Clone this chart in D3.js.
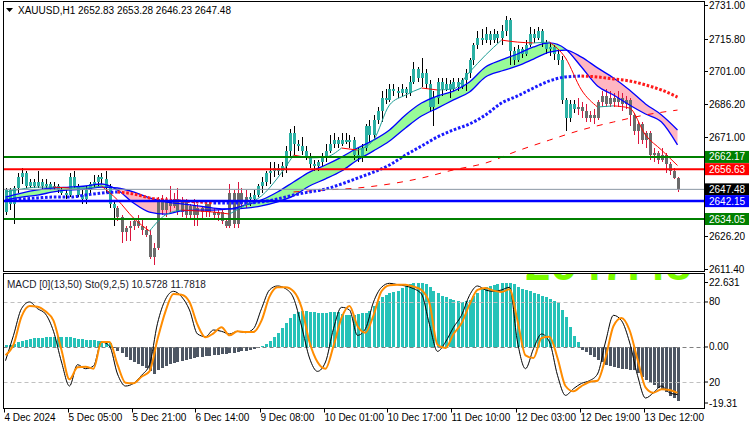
<!DOCTYPE html>
<html><head><meta charset="utf-8">
<script src="https://cdn.jsdelivr.net/npm/d3@7"></script>
<style>
html,body{margin:0;padding:0;background:#fff;}
svg{display:block;font-family:"Liberation Sans",Arial,sans-serif;}
</style></head><body>
<svg id="c" width="750" height="430"></svg>
<script>
// ---------- DATA ----------
const title = "XAUUSD,H1  2652.83 2653.28 2646.23 2647.48";
const subTitle = "MACD [0](13,50)  Sto(9,2,5) 10.5728 11.7818";
const open = [2637,2647,2641,2648,2653,2655,2649,2651,2649,2651,2649,2650,2648,2649,2647,2646,2645,2653,2649,2645,2643,2647,2650,2651,2653,2652,2648,2641,2639,2635,2628,2630,2631,2633,2631,2629,2627,2617,2621,2643,2638,2642,2640,2643,2637,2642,2636,2640,2636,2639,2637,2641,2637,2636,2637,2633,2631,2646,2632,2646,2641,2644,2643,2645,2649,2651,2655,2656,2657,2656,2658,2665,2673,2668,2667,2665,2662,2659,2658,2660,2662,2665,2668,2670,2668,2670,2669,2670,2663,2662,2666,2676,2672,2679,2683,2689,2688,2693,2692,2691,2693,2691,2696,2702,2698,2700,2695,2685,2689,2696,2693,2695,2693,2696,2694,2697,2700,2706,2713,2716,2715,2718,2715,2718,2716,2719,2724,2710,2706,2711,2709,2713,2718,2716,2719,2714,2711,2712,2709,2706,2688,2680,2686,2684,2685,2683,2680,2681,2680,2687,2690,2686,2689,2687,2689,2686,2688,2681,2674,2677,2670,2673,2663,2664,2661,2663,2659,2656,2652.83];
const high = [2648,2648,2649,2655,2657,2656,2652,2652,2656,2652,2652,2651,2651,2650,2648,2647,2655,2656,2650,2647,2649,2651,2654,2654,2655,2656,2650,2642,2640,2636,2631,2633,2634,2636,2634,2631,2629,2623,2644,2645,2644,2649,2646,2648,2644,2643,2641,2643,2641,2640,2642,2642,2639,2638,2638,2634,2650,2647,2651,2648,2647,2646,2647,2650,2653,2656,2660,2660,2659,2660,2667,2675,2676,2670,2671,2667,2664,2661,2661,2664,2668,2672,2673,2671,2673,2673,2672,2671,2666,2668,2677,2679,2681,2685,2692,2693,2695,2695,2694,2695,2694,2699,2705,2703,2707,2702,2697,2692,2698,2698,2698,2697,2698,2698,2698,2702,2707,2714,2719,2720,2721,2719,2720,2719,2722,2726,2725,2712,2713,2712,2715,2721,2720,2721,2720,2715,2714,2713,2711,2708,2689,2688,2688,2689,2687,2686,2683,2684,2688,2692,2693,2692,2691,2692,2691,2690,2689,2682,2678,2678,2674,2674,2666,2665,2666,2664,2660,2657,2653.28];
const low = [2636,2638,2632,2646,2650,2648,2648,2648,2648,2647,2648,2647,2647,2646,2645,2643,2644,2648,2644,2641,2641,2645,2648,2649,2650,2646,2639,2631,2633,2623,2624,2624,2629,2630,2627,2626,2616,2613,2620,2636,2635,2637,2639,2636,2635,2634,2634,2631,2631,2634,2635,2635,2634,2633,2632,2630,2630,2630,2630,2639,2639,2640,2641,2644,2646,2649,2650,2653,2654,2653,2655,2662,2663,2665,2663,2661,2657,2656,2656,2658,2660,2664,2666,2666,2667,2668,2666,2661,2660,2660,2665,2669,2670,2677,2678,2686,2687,2690,2689,2690,2689,2690,2695,2696,2694,2693,2683,2676,2686,2690,2692,2689,2692,2692,2693,2692,2698,2704,2711,2713,2714,2713,2714,2714,2713,2717,2704,2704,2705,2707,2708,2712,2714,2715,2712,2709,2708,2706,2704,2686,2674,2678,2682,2681,2680,2678,2678,2677,2679,2685,2685,2685,2685,2685,2683,2684,2676,2672,2668,2668,2666,2661,2660,2659,2660,2655,2654,2652,2646.23];
const close = [2647,2641,2648,2653,2655,2649,2651,2649,2651,2649,2650,2648,2649,2647,2646,2645,2653,2649,2645,2643,2647,2650,2651,2653,2652,2648,2641,2639,2635,2628,2630,2631,2633,2631,2629,2627,2617,2621,2643,2638,2642,2640,2643,2637,2642,2636,2640,2636,2639,2637,2641,2637,2636,2637,2633,2631,2646,2632,2646,2641,2644,2643,2645,2649,2651,2655,2656,2657,2656,2658,2665,2673,2668,2667,2665,2662,2659,2658,2660,2662,2665,2668,2670,2668,2670,2669,2670,2663,2662,2666,2676,2672,2679,2683,2689,2688,2693,2692,2691,2693,2691,2696,2702,2698,2700,2695,2685,2689,2696,2693,2695,2693,2696,2694,2697,2700,2706,2713,2716,2715,2718,2715,2718,2716,2719,2724,2710,2706,2711,2709,2713,2718,2716,2719,2714,2711,2712,2709,2706,2688,2680,2686,2684,2685,2683,2680,2681,2680,2687,2690,2686,2689,2687,2689,2686,2688,2681,2674,2677,2670,2673,2663,2664,2661,2663,2659,2656,2652.83,2647.48];
// bar ranges drawn in the "down" candle style
const downRanges = [[28, 60], [143, 168]];

// indicator samples, one value every 4 bars (bar 0, 4, 8 ... 168)
const fastMA = [2646.3,2647.6,2648.5,2648.5,2648.1,2648.1,2649.0,2642.7,2634.5,2628.6,2635.9,2638.1,2637.7,2637.2,2636.3,2640.4,2644.5,2652.6,2663.0,2661.7,2662.1,2666.2,2665.3,2669.8,2685.7,2690.2,2693.4,2692.5,2693.0,2700.6,2708.3,2715.1,2714.2,2713.8,2714.2,2707.0,2692.5,2684.8,2685.3,2684.3,2672.1,2665.3,2658.3];
const bandFast = [2644.0,2645.8,2647.2,2648.1,2648.5,2649.0,2649.9,2647.2,2641.3,2637.2,2636.3,2637.7,2638.1,2638.1,2638.6,2640.4,2642.7,2646.3,2650.8,2655.3,2658.5,2662.1,2666.2,2669.8,2674.4,2681.2,2686.6,2689.8,2692.0,2696.1,2702.9,2706.1,2708.8,2712.0,2713.8,2711.1,2702.9,2694.3,2690.2,2685.7,2681.6,2678.0,2667.6];
const bandSlow = [2642.7,2644.0,2644.9,2646.3,2647.2,2647.6,2648.5,2648.1,2646.3,2643.6,2641.8,2640.9,2640.0,2639.0,2638.6,2639.0,2640.0,2641.8,2644.5,2649.0,2652.2,2655.8,2660.8,2664.9,2669.4,2675.3,2680.7,2684.3,2688.0,2691.6,2698.4,2701.1,2703.4,2706.5,2709.7,2710.6,2707.4,2702.5,2697.9,2692.5,2686.2,2681.2,2674.4];
const dotMA = [2642.7,2643.1,2643.6,2644.0,2644.0,2644.9,2645.8,2646.3,2645.4,2643.6,2642.7,2642.2,2641.8,2641.3,2641.3,2641.3,2641.8,2643.1,2644.9,2646.3,2647.6,2649.9,2652.6,2655.3,2658.5,2663.0,2667.1,2671.2,2674.4,2677.1,2681.2,2686.6,2689.8,2693.4,2696.6,2698.4,2698.8,2698.4,2697.5,2696.6,2694.8,2692.5,2689.3];
// slow MA, one value every 8 bars starting at bar 72
const slowMAStart = 72;
const slowMA = [2646.3,2647.2,2648.1,2649.9,2652.6,2656.3,2659.4,2664.9,2669.8,2674.4,2678.0,2681.2,2683.4];

// horizontal levels
const levelValues = [2662.17, 2656.63, 2647.48, 2642.15, 2634.05];
const levelColors = ["#008000", "#ff0000", "#000000", "#0000ff", "#008000"];
const levelLineColors = ["#008000", "#ff0000", "#8a96a3", "#0000ff", "#008000"];
const levelWidths = [2, 2, 1, 2.5, 2];

const priceTicks = [2731.00, 2715.80, 2701.00, 2686.20, 2671.00, 2626.20, 2611.40];
const timeLabels = ["4 Dec 2024","5 Dec 05:00","5 Dec 21:00","6 Dec 14:00","9 Dec 08:00","10 Dec 01:00","10 Dec 17:00","11 Dec 10:00","12 Dec 03:00","12 Dec 19:00","13 Dec 12:00"];
const timeLabelBars = [0,16,32,48,64,80,96,112,128,144,160];

// MACD histogram, one per bar
const macdHist = [0.5,0.6,0.8,1.5,1.9,2.2,2.5,2.7,2.9,3.0,3.1,3.2,3.2,3.2,3.2,3.1,3.1,2.8,2.6,2.4,2.3,2.2,2.1,2.0,1.9,1.7,1.3,
-0.3,-1.2,-2.0,-3.2,-4.2,-4.8,-5.4,-6.1,-6.7,-7.5,-8.6,-7.3,-6.8,-6.0,-5.3,-5.0,-4.6,-4.3,-4.0,-3.8,-3.5,-3.3,-3.1,-2.9,-2.8,-2.6,-2.4,-2.3,-2.1,-2.0,-1.8,-1.6,-1.4,-1.2,-0.9,-0.6,-0.3,
0.4,1.0,2.0,3.3,4.5,6.0,7.6,9.2,10.6,11.2,11.4,11.3,11.1,11.0,10.8,10.8,10.9,11.0,11.1,11.0,10.6,10.2,
10.0,10.2,10.6,10.8,10.8,11.5,13.0,14.5,15.8,16.5,17.0,17.4,17.8,18.6,
19.4,19.8,20.1,20.3,20.3,20.0,19.0,17.6,17.2,
16.2,15.7,15.3,15.0,14.6,14.4,14.5,
15.0,16.0,17.2,18.3,19.0,19.4,19.7,20.0,20.2,20.3,20.4,
19.8,19.0,18.4,18.0,17.6,17.2,16.8,
16.3,15.8,15.2,14.6,13.8,11.8,9.6,
6.4,3.6,1.5,
-0.9,-1.7,-2.4,-3.2,-4.0,-4.8,-5.6,-6.0,-6.3,-6.6,-6.9,-7.1,-7.2,-7.2,-8.2,-9.4,-10.6,-11.4,-12.1,-12.9,-13.6,-14.4,-15.4,-16.3,-17.2];
const macdMax = 22.631, macdMin = -19.31;

// stochastic, one value every 2 bars
const stoMain = [36,55,75,80,75,71,58,35,17,33,30,32,50,47,26,17,19,25,33,64,82,88,84,74,56,54,59,58,56,58,57,60,75,89,92,90,83,62,38,28,35,60,76,74,55,60,80,91,94,93,92,90,86,63,43,50,61,70,85,92,89,88,89,91,50,30,45,56,50,25,10,15,19,21,26,50,70,66,50,25,8,12,17,12,10.6];
const stoSignal = [40,48,69,77,76.5,73,66,44,22,31,31.5,30,50,50,33,19.5,19,24,28,52,73,86,85.5,80,63,53.5,56.5,61,55,58,57.5,57.5,66,84,91,91,88,76,50,35,30,47,68,77,62,57,70,88,92.5,93,93,91.5,89,79,48,45.5,56,64,78,89,90.5,88.5,87.5,89.5,66,40,38,53,54,38,17,13,17,20,21,38,62,68,59,37,16,12,14.5,14,11.8];
const stoLevels = [80, 20];
const watermark = "2647.48";

// ---------- LAYOUT ----------
const svg = d3.select("#c");
const L = 3.5, R = 704.5;
const mainT = 1.5, mainB = 271.5, subT = 273.5, subB = 408.5;
const nBars = close.length;
const x = d3.scaleLinear().domain([0, nBars - 1]).range([5.5, 5.5 + 4 * (nBars - 1)]);
const y = d3.scaleLinear().domain([2611.4, 2731]).range([269, 5]);
const yM = d3.scaleLinear().domain([macdMin, macdMax]).range([408, 275.5]);
const yS = d3.scaleLinear().domain([0, 100]).range([408.7, 275.3]);

const defs = svg.append("defs");
defs.append("clipPath").attr("id", "cm").append("rect").attr("x", L + 0.5).attr("y", mainT + 0.5).attr("width", R - L - 1).attr("height", mainB - mainT - 1);
defs.append("clipPath").attr("id", "cs").append("rect").attr("x", L + 0.5).attr("y", subT + 0.5).attr("width", R - L - 1).attr("height", subB - subT - 1);

const gm = svg.append("g").attr("clip-path", "url(#cm)");
const gs = svg.append("g").attr("clip-path", "url(#cs)");

const isDown = i => downRanges.some(r => i >= r[0] && i <= r[1]);
const step4 = d3.range(0, nBars, 4);

function runs(n, keyFn) {
  const out = []; let cur = null;
  for (let k = 0; k < n - 1; k++) {
    const key = keyFn(k);
    if (!cur || cur.key !== key) { cur = {key, from: k, to: k + 1}; out.push(cur); }
    else cur.to = k + 1;
  }
  return out;
}

// band fill
const bandPts = step4.map((b, k) => ({i: b, a: bandFast[k], s: bandSlow[k]}));
const bandRuns = runs(bandPts.length, k => (bandPts[k].a + bandPts[k + 1].a) >= (bandPts[k].s + bandPts[k + 1].s));
const area = d3.area().x(d => x(d.i)).y0(d => y(d.a)).y1(d => y(d.s)).curve(d3.curveMonotoneX);
bandRuns.forEach(r => {
  gm.append("path").attr("d", area(bandPts.slice(r.from, r.to + 1)))
    .attr("fill", r.key ? "#98fb98" : "#ffb6c1").attr("stroke", "none");
});

// candles
const cg = gm.append("g").attr("shape-rendering", "crispEdges");
for (let i = 0; i < nBars; i++) {
  const xc = Math.round(x(i));
  const dn = isDown(i);
  cg.append("line").attr("x1", xc + 0.5).attr("x2", xc + 0.5)
    .attr("y1", y(high[i])).attr("y2", y(low[i]))
    .attr("stroke", dn ? "#dc143c" : "#000").attr("stroke-width", 1);
  const top = y(Math.max(open[i], close[i])), bot = y(Math.min(open[i], close[i]));
  cg.append("rect").attr("x", xc - 1).attr("width", 3)
    .attr("y", top).attr("height", Math.max(1, bot - top))
    .attr("fill", dn ? "#6b6b6b" : "#2ab0a4");
}

// band lines
const lineF = d3.line().x(d => x(d.i)).y(d => y(d.v)).curve(d3.curveMonotoneX);
[bandFast, bandSlow].forEach(arr => {
  gm.append("path").attr("d", lineF(step4.map((b, k) => ({i: b, v: arr[k]}))))
    .attr("fill", "none").attr("stroke", "#0000ff").attr("stroke-width", 1.3);
});

// slow dashed MA
const slowPts = slowMA.map((v, k) => ({i: slowMAStart + 8 * k, v}));
gm.append("path").attr("d", lineF(slowPts)).attr("fill", "none")
  .attr("stroke", "#ff0000").attr("stroke-width", 1).attr("stroke-dasharray", "6,7");

// dotted MA, colored by slope
const dotPts = step4.map((b, k) => ({i: b, v: dotMA[k]}));
runs(dotPts.length, k => dotPts[k + 1].v >= dotPts[k].v).forEach(r => {
  gm.append("path").attr("d", lineF(dotPts.slice(r.from, r.to + 1)))
    .attr("fill", "none").attr("stroke", r.key ? "#1a1aff" : "#ff1a1a")
    .attr("stroke-width", 3).attr("stroke-dasharray", "2.6,1.8");
});

// fast thin MA, colored by slope
const fastPts = step4.map((b, k) => ({i: b, v: fastMA[k]}));
runs(fastPts.length, k => fastPts[k + 1].v >= fastPts[k].v).forEach(r => {
  gm.append("path").attr("d", lineF(fastPts.slice(r.from, r.to + 1)))
    .attr("fill", "none").attr("stroke", r.key ? "#1f9e96" : "#ff0000").attr("stroke-width", 1);
});

// horizontal levels
levelValues.forEach((v, k) => {
  svg.append("line").attr("x1", L).attr("x2", R).attr("y1", y(v)).attr("y2", y(v))
    .attr("stroke", levelLineColors[k]).attr("stroke-width", levelWidths[k]);
});

// ---------- SUB WINDOW ----------
const hg = gs.append("g").attr("shape-rendering", "crispEdges");
macdHist.forEach((v, i) => {
  const xc = Math.round(x(i));
  const y0 = yM(0), y1 = yM(v);
  hg.append("rect").attr("x", xc - 1).attr("width", 3)
    .attr("y", Math.min(y0, y1)).attr("height", Math.max(1, Math.abs(y1 - y0)))
    .attr("fill", v >= 0 ? "#26c2b8" : "#4d5663");
});
stoLevels.forEach(v => {
  gs.append("line").attr("x1", L).attr("x2", R).attr("y1", Math.round(yS(v)) + 0.5).attr("y2", Math.round(yS(v)) + 0.5)
    .attr("stroke", "#c0c0c0").attr("stroke-dasharray", "4,3");
});
gs.append("line").attr("x1", L).attr("x2", R).attr("y1", Math.round(yM(0)) + 0.5).attr("y2", Math.round(yM(0)) + 0.5)
  .attr("stroke", "#808080").attr("stroke-dasharray", "4,3");

const step2 = d3.range(0, nBars, 2);
const lineS = d3.line().x(d => x(d.i)).y(d => yS(d.v)).curve(d3.curveMonotoneX);
gs.append("path").attr("d", lineS(step2.map((b, k) => ({i: b, v: stoMain[k]}))))
  .attr("fill", "none").attr("stroke", "#000").attr("stroke-width", 1);
gs.append("path").attr("d", lineS(step2.map((b, k) => ({i: b, v: stoSignal[k]}))))
  .attr("fill", "none").attr("stroke", "#ff8c00").attr("stroke-width", 2);

gs.append("text").attr("x", 525).attr("y", 279.5).text(watermark)
  .attr("font-size", 46).attr("font-weight", "bold").attr("fill", "#7cfc00");

// ---------- FRAMES ----------
svg.append("rect").attr("x", L).attr("y", mainT).attr("width", R - L).attr("height", mainB - mainT)
  .attr("fill", "none").attr("stroke", "#000").attr("stroke-width", 1);
svg.append("rect").attr("x", L).attr("y", subT).attr("width", R - L).attr("height", subB - subT)
  .attr("fill", "none").attr("stroke", "#000").attr("stroke-width", 1);

// ---------- AXES ----------
const fs = 10;
priceTicks.forEach(v => {
  const yy = Math.round(y(v)) + 0.5;
  svg.append("line").attr("x1", R).attr("x2", R + 3.5).attr("y1", yy).attr("y2", yy).attr("stroke", "#000");
  svg.append("text").attr("x", R + 4.5).attr("y", yy).attr("dominant-baseline", "central")
    .attr("font-size", fs).attr("fill", "#000").text(v.toFixed(2));
});
levelValues.forEach((v, k) => {
  const yy = y(v);
  svg.append("rect").attr("x", R + 0.5).attr("y", yy - 6).attr("width", 44).attr("height", 12).attr("fill", levelColors[k]);
  svg.append("text").attr("x", R + 4.5).attr("y", yy).attr("dominant-baseline", "central")
    .attr("font-size", fs).attr("fill", "#fff").text(v.toFixed(2));
});
const subLabels = [
  {t: macdMax.toFixed(3), yy: yM(macdMax) + 7},
  {t: String(stoLevels[0]), yy: yS(stoLevels[0])},
  {t: "0.00", yy: yM(0)},
  {t: String(stoLevels[1]), yy: yS(stoLevels[1])},
  {t: macdMin.toFixed(2), yy: yM(macdMin) - 5}
];
subLabels.forEach(d => {
  svg.append("line").attr("x1", R).attr("x2", R + 3.5).attr("y1", d.yy).attr("y2", d.yy).attr("stroke", "#000");
  svg.append("text").attr("x", R + 4.5).attr("y", d.yy).attr("dominant-baseline", "central")
    .attr("font-size", fs).attr("fill", "#000").text(d.t);
});
timeLabels.forEach((t, k) => {
  const xx = Math.round(x(timeLabelBars[k])) - 1.5;
  svg.append("line").attr("x1", xx).attr("x2", xx).attr("y1", subB).attr("y2", subB + 4).attr("stroke", "#000");
  svg.append("text").attr("x", xx).attr("y", 421).attr("font-size", fs).attr("fill", "#000").text(t);
});

// ---------- TITLES ----------
svg.append("path").attr("d", "M6,8 L13,8 L9.5,12 Z").attr("fill", "#000");
svg.append("text").attr("x", 18).attr("y", 14).attr("font-size", fs).attr("fill", "#000").text(title);
svg.append("text").attr("x", 7).attr("y", 288).attr("font-size", fs).attr("fill", "#1a1a2a").text(subTitle);
</script>
</body></html>
